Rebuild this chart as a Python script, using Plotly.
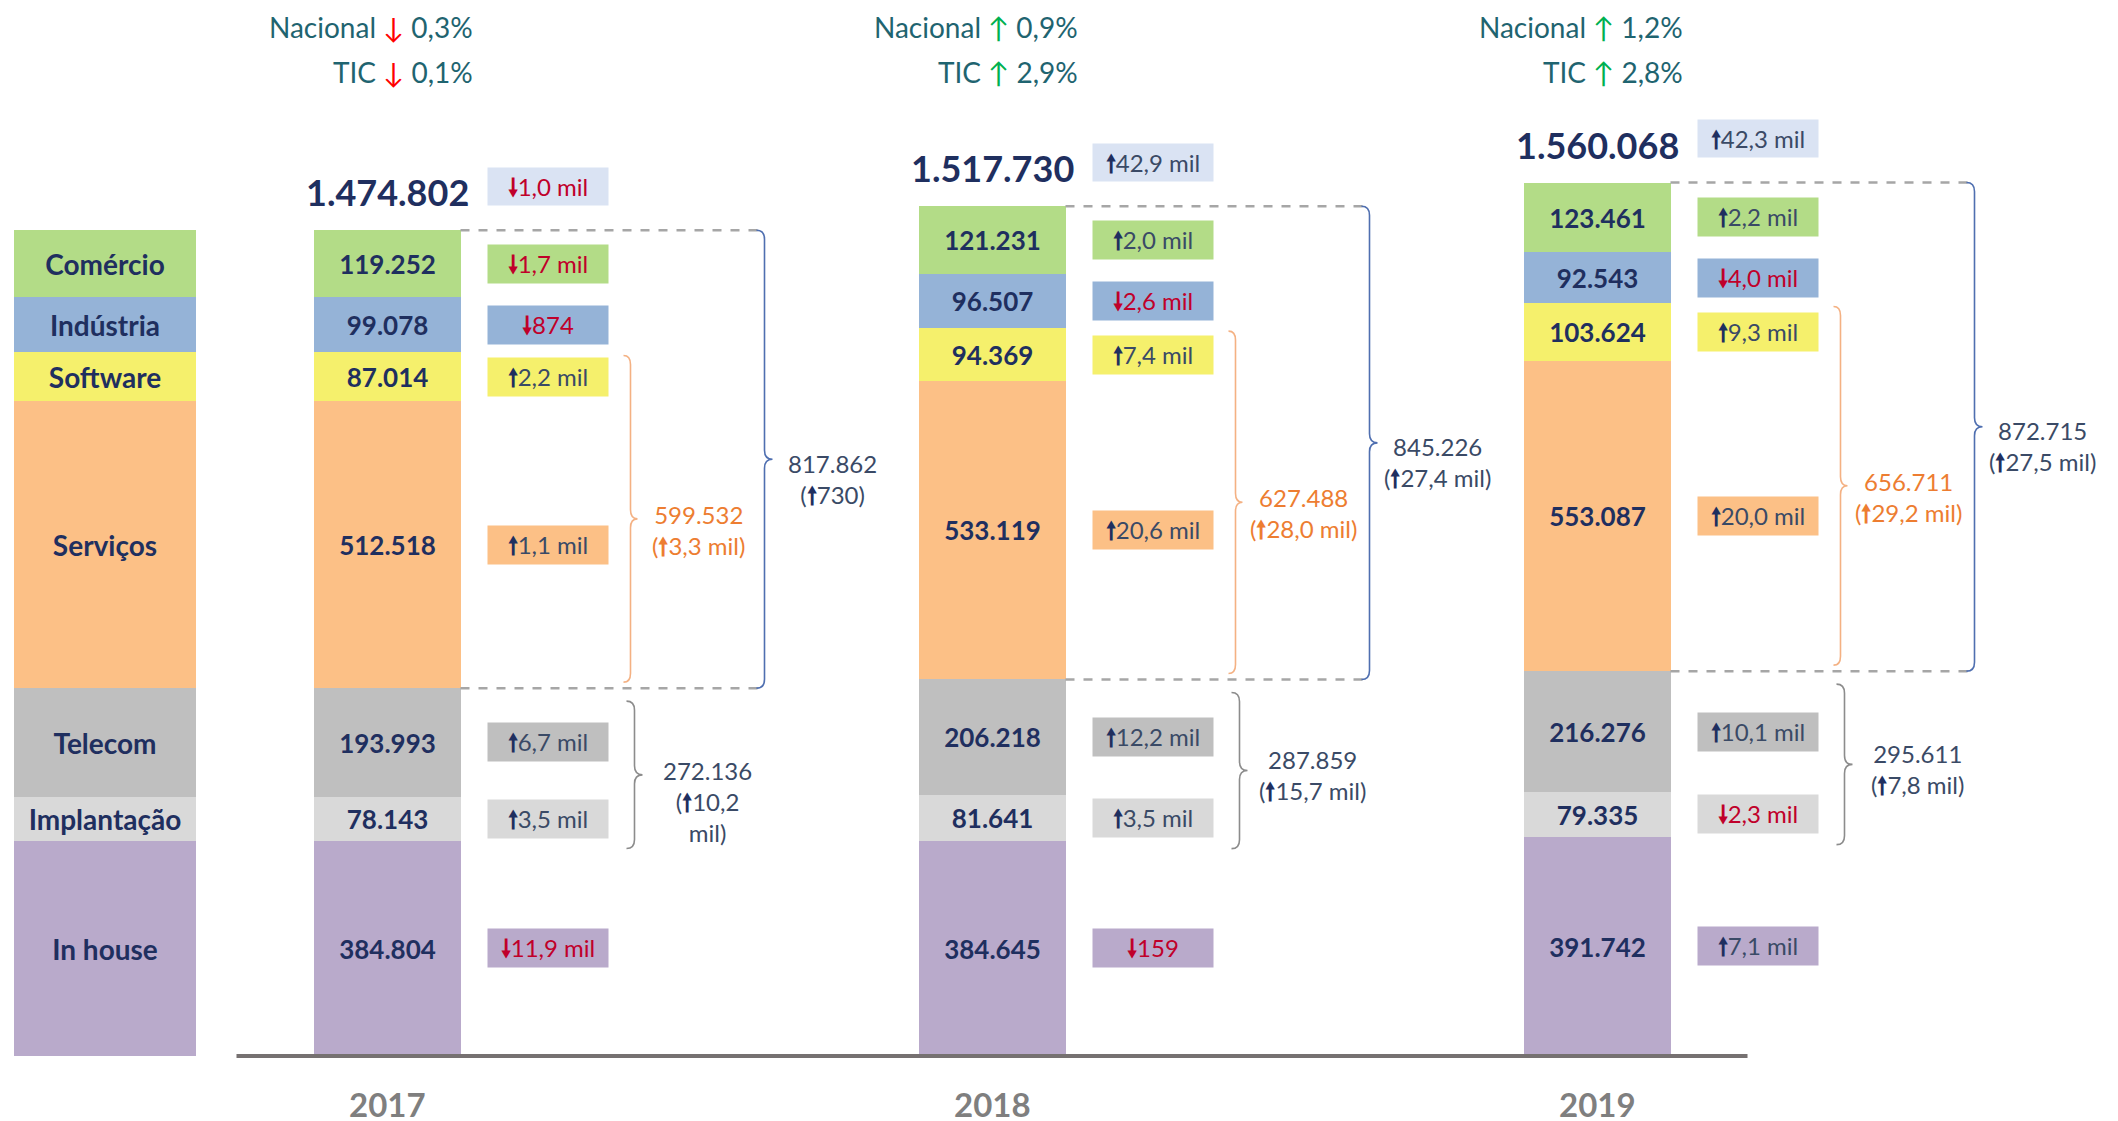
import plotly.graph_objects as go

years = ["2017", "2018", "2019"]
segmentos = ["In house", "Implantação", "Telecom", "Serviços", "Software", "Indústria", "Comércio"]

# empregos por segmento (de baixo para cima)
in_house = [384804, 384645, 391742]
implantacao = [78143, 81641, 79335]
telecom = [193993, 206218, 216276]
servicos = [512518, 533119, 553087]
software = [87014, 94369, 103624]
industria = [99078, 96507, 92543]
comercio = [119252, 121231, 123461]

# variacao em relacao ao ano anterior
var_in_house = [-11900, -159, 7100]
var_implantacao = [3500, 3500, -2300]
var_telecom = [6700, 12200, 10100]
var_servicos = [1100, 20600, 20000]
var_software = [2200, 7400, 9300]
var_industria = [-874, -2600, -4000]
var_comercio = [-1700, 2000, 2200]
var_total = [-1000, 42900, 42300]

var_sw_serv = [3300, 28000, 29200]
var_ti = [730, 27400, 27500]
var_tel_impl = [10200, 15700, 7800]

nacional = [-0.3, 0.9, 1.2]
tic = [-0.1, 2.9, 2.8]

valores = [in_house, implantacao, telecom, servicos, software, industria, comercio]
variacoes = [var_in_house, var_implantacao, var_telecom, var_servicos,
             var_software, var_industria, var_comercio]
cores = ["#B9AACB", "#D9D9D9", "#BFBFBF", "#FCC086", "#F5F06C", "#95B3D7", "#B3DC87"]

NAVY = "#1F2F5F"
SLATE = "#3A4A66"
RED = "#C0002A"
ORANGE = "#ED7D31"
TEAL = "#1F6470"
ARW = "font-family:DejaVu Sans;font-weight:bold"

# escala: pixels por unidade (a pagina tem 8 px de margem no body)
OFF = 8
XPX = 605.0
YPX = 1786.0
MB = 40
H_PLOT = 1121 - MB
BASE = 1056 - OFF
BW = 147 / XPX
LEG_X = -282 / XPX
LEG_W = 182 / XPX


def px(p):
    return p / XPX


def py(p):
    return p * YPX


def fmt_num(v):
    return f"{v:,}".replace(",", ".")


def fmt_var(v):
    a = abs(v)
    if a >= 1000:
        return f"{a / 1000:.1f}".replace(".", ",") + " mil"
    return str(a)


def seta(cor, up=True):
    return f"<span style='color:{cor};{ARW}'>{'🠕' if up else '🠗'}</span>"


def var_text(v):
    if v >= 0:
        return seta(NAVY) + fmt_var(v), SLATE
    return seta(RED, False) + fmt_var(v), RED


def brace(x0, y_top, y_bot, w_px, color):
    w = px(w_px)
    r = py(9)
    ym = (y_top + y_bot) / 2
    xm = x0 + w / 2
    path = (f"M {x0},{y_top} Q {xm},{y_top} {xm},{y_top - r} "
            f"L {xm},{ym + r} Q {xm},{ym} {x0 + w},{ym} "
            f"Q {xm},{ym} {xm},{ym - r} L {xm},{y_bot + r} "
            f"Q {xm},{y_bot} {x0},{y_bot}")
    return dict(type="path", xref="x", yref="y", path=path,
                line=dict(color=color, width=1.6), layer="above")


fig = go.Figure()

for nome, vals, cor in zip(segmentos, valores, cores):
    fig.add_trace(go.Bar(
        x=[LEG_X, 0, 1, 2],
        y=[vals[0]] + vals,
        width=[LEG_W, BW, BW, BW],
        marker=dict(color=cor, line=dict(width=0)),
        text=[nome] + [fmt_num(v) for v in vals],
        textposition="inside",
        insidetextanchor="middle",
        textangle=0,
        constraintext="none",
        textfont=dict(size=[28, 26, 26, 26], color=NAVY, family="Lato", weight="bold"),
        hoverinfo="skip",
    ))

shapes = []
annotations = []

for i, ano in enumerate(years):
    right = i + BW / 2
    col = [v[i] for v in valores]
    cum = [sum(col[:k]) for k in range(len(col) + 1)]
    total = cum[-1]

    # variacoes por segmento
    for k, vv in enumerate(variacoes):
        txt, tc = var_text(vv[i])
        annotations.append(dict(
            x=right + px(87), y=(cum[k] + cum[k + 1]) / 2, xref="x", yref="y",
            text=txt, showarrow=False, width=120, height=38, borderpad=0,
            bgcolor=cores[k], font=dict(size=24, color=tc, family="Lato")))

    # total
    annotations.append(dict(
        x=i, y=total + py(38), xref="x", yref="y", text=f"<b>{fmt_num(total)}</b>",
        showarrow=False, font=dict(size=36, color=NAVY, family="Lato")))
    txt, tc = var_text(var_total[i])
    annotations.append(dict(
        x=right + px(87), y=total + py(44), xref="x", yref="y",
        text=txt, showarrow=False, width=120, height=37, borderpad=0,
        bgcolor="#DAE3F3", font=dict(size=24, color=tc, family="Lato")))

    # ano
    annotations.append(dict(
        x=i, y=1 - (1104 - OFF) / H_PLOT, xref="x", yref="paper", yanchor="middle",
        text=f"<b>{ano}</b>", showarrow=False,
        font=dict(size=33, color="#7F7F7F", family="Lato")))

    # Nacional / TIC
    for j, (rot, val) in enumerate([("Nacional", nacional[i]), ("TIC", tic[i])]):
        ac = "#00B050" if val >= 0 else "#FF0000"
        arr = "↑" if val >= 0 else "↓"
        annotations.append(dict(
            x=right + px(14), y=1 - ([27, 72][j] - OFF) / H_PLOT, xref="x", yref="paper",
            xanchor="right", yanchor="middle", showarrow=False,
            text=f"{rot} <span style='color:{ac}'>{arr}</span> " + f"{abs(val):.1f}%".replace(".", ","),
            font=dict(size=28, color=TEAL, family="Lato")))

    # linhas tracejadas
    for yy in [total, cum[3]]:
        shapes.append(dict(type="line", xref="x", yref="y", x0=right, x1=right + px(300),
                           y0=yy, y1=yy, line=dict(color="#A6A6A6", width=2.5, dash="dash")))

    # chaves
    sw_top, sw_bot = cum[5], cum[3]
    shapes.append(brace(right + px(163), sw_top - py(3), sw_bot + py(6), 14, "#F4B183"))
    shapes.append(brace(right + px(296), total, cum[3], 16, "#4F6FB0"))
    shapes.append(brace(right + px(166), cum[3] - py(13), cum[1] - py(8), 16, "#8C8C8C"))

    ym = (sw_top + sw_bot) / 2
    annotations.append(dict(
        x=right + px(238), y=ym - py(10), xref="x", yref="y", showarrow=False,
        text=f"{fmt_num(sw_top - sw_bot)}<br>({seta(ORANGE)}{fmt_var(var_sw_serv[i])})",
        font=dict(size=24, color=ORANGE, family="Lato")))
    annotations.append(dict(
        x=right + px(372), y=(total + cum[3]) / 2 - py(20), xref="x", yref="y", showarrow=False,
        text=f"{fmt_num(total - cum[3])}<br>({seta(NAVY)}{fmt_var(var_ti[i])})",
        font=dict(size=24, color=SLATE, family="Lato")))
    sep = "<br>" if i == 0 else " "
    g_mid = (cum[3] - py(13) + cum[1] - py(8)) / 2
    annotations.append(dict(
        x=right + px(247), y=g_mid - (py(27) if i == 0 else py(5)), xref="x", yref="y", showarrow=False,
        text=(f"{fmt_num(cum[3] - cum[1])}<br>({seta(NAVY)}"
              + fmt_var(var_tel_impl[i]).replace(" ", sep) + ")"),
        font=dict(size=24, color=SLATE, family="Lato")))

# linha de base
shapes.append(dict(type="line", xref="x", yref="y", x0=-BW / 2 - px(77), x1=2 + BW / 2 + px(77),
                   y0=0, y1=0, line=dict(color="#767171", width=4)))

fig.update_layout(
    barmode="stack",
    width=2118, height=1121,
    margin=dict(l=0, r=0, t=0, b=MB, autoexpand=False),
    paper_bgcolor="white", plot_bgcolor="white",
    showlegend=False,
    font=dict(family="Lato"),
    shapes=shapes,
    annotations=annotations,
    bargap=0,
    xaxis=dict(range=[-(387 - OFF) / XPX, (2118 - 387 + OFF) / XPX], visible=False,
               showgrid=False, zeroline=False, showline=False, fixedrange=True, automargin=False),
    yaxis=dict(range=[-py(H_PLOT - BASE), py(BASE)], visible=False, showgrid=False, zeroline=False,
               fixedrange=True, automargin=False),
)

fig.write_html("out.html")
